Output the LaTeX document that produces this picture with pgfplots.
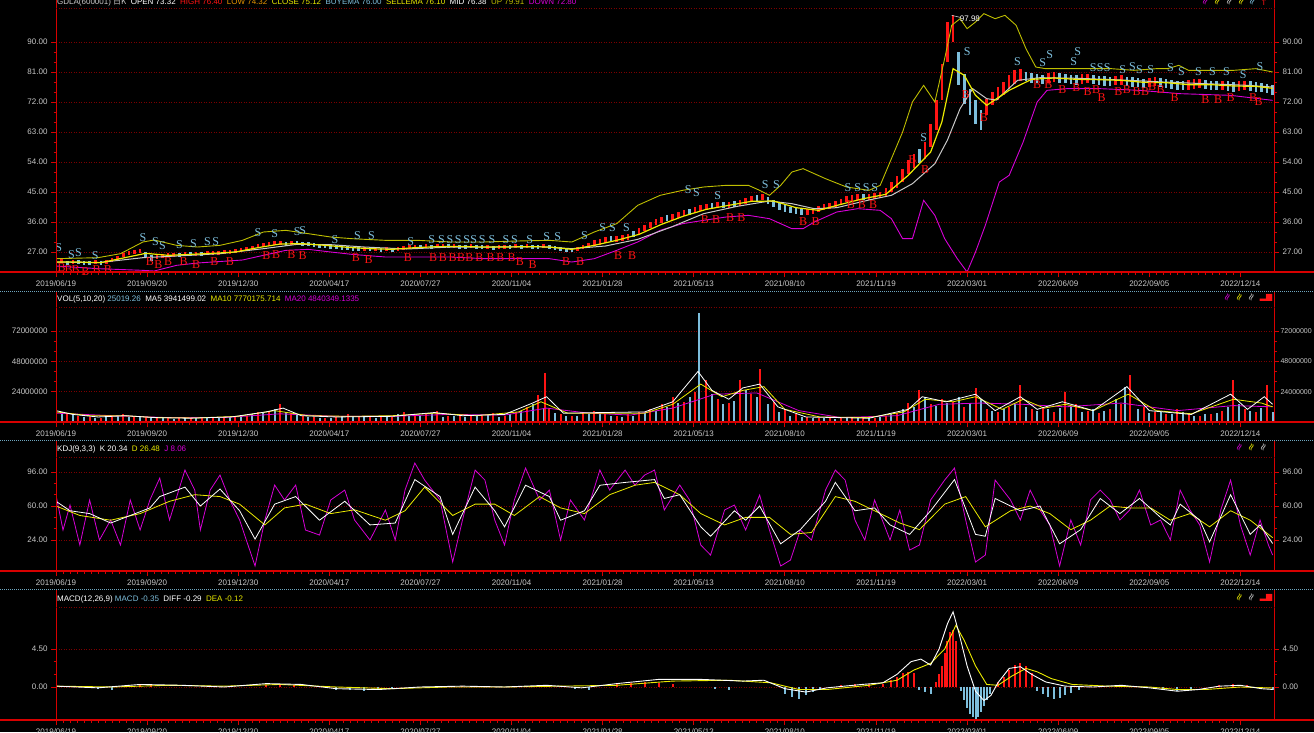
\documentclass[border=0pt]{standalone}
\usepackage{fontspec}
\setmainfont{Liberation Sans}
\newfontfamily\serifS{Liberation Serif}
\newfontfamily\cjk{Noto Sans CJK SC}
\newfontfamily\sym{DejaVu Sans}
\usepackage{pgfplots}
\usepackage{pgfplotstable}
\pgfplotsset{compat=1.18}

\definecolor{axred}{RGB}{215,0,0}
\definecolor{gridred}{RGB}{125,0,0}
\definecolor{lab}{RGB}{200,200,200}
\definecolor{lblue}{RGB}{125,190,220}
\definecolor{bandy}{RGB}{190,190,0}
\definecolor{yel}{RGB}{235,235,0}
\definecolor{mag}{RGB}{215,0,215}
\definecolor{org}{RGB}{230,150,0}
\definecolor{sepblue}{RGB}{110,165,190}
\definecolor{cred}{RGB}{255,20,20}

% ---------------- price candles (day index, centre, half range)
\pgfplotstableread{
x c e
0 24.0 0.6
4 24.2 0.6
12 24.1 0.6
28 23.9 0.6
36 24.1 0.6
40 24.5 0.6
44 25.2 0.6
48 26.0 0.6
52 26.6 0.6
56 27.0 0.6
60 27.3 0.6
72 25.6 0.6
76 25.9 0.6
80 26.0 0.6
84 26.2 0.6
92 26.4 0.6
100 26.5 0.6
108 26.6 0.6
112 26.7 0.6
116 26.8 0.6
120 26.9 0.6
124 27.0 0.6
128 27.2 0.6
132 27.5 0.6
136 27.9 0.6
140 28.3 0.6
144 28.7 0.6
148 29.0 0.6
152 29.4 0.6
156 29.6 0.6
160 29.8 0.6
168 29.7 0.6
220 28.0 0.6
228 27.9 0.6
236 27.8 0.6
244 28.0 0.6
248 28.2 0.6
252 28.4 0.6
256 28.6 0.6
264 28.8 0.6
272 28.7 0.6
276 28.9 0.6
284 28.8 0.6
296 28.7 0.6
308 28.5 0.6
316 28.5 0.6
320 28.6 0.6
328 28.7 0.6
336 28.8 0.6
348 28.7 0.6
372 28.0 0.6
376 28.6 0.6
380 29.1 0.6
384 29.6 0.9
388 30.1 0.9
392 30.5 0.9
400 31.0 0.9
404 31.3 0.9
408 31.6 0.9
416 33.2 0.9
420 34.2 0.9
424 35.1 0.9
428 35.9 0.9
432 36.6 0.9
440 37.6 0.9
444 38.1 0.9
448 38.6 0.9
456 39.6 0.9
460 40.1 0.9
464 40.6 0.9
472 41.1 0.9
480 41.2 0.9
488 41.7 0.9
492 42.2 0.9
496 42.8 0.9
504 43.4 0.9
536 39.1 0.9
540 39.4 0.9
544 39.9 0.9
548 40.4 0.9
552 40.9 0.9
556 41.4 0.9
560 42.1 0.9
564 42.9 0.9
568 43.3 0.9
572 43.5 0.9
580 43.6 0.9
584 43.8 0.9
588 44.1 0.9
592 45.0 1.2
596 46.5 1.5
600 48.0 1.8
604 50.0 2.0
608 52.5 2.2
612 54.3 2.2
620 57.5 2.5
624 62.0 3.5
628 68.0 4.5
632 78.0 5.5
636 90.0 6.0
640 94.0 4.0
664 70.5 2.5
668 73.0 2.0
672 74.5 2.0
676 76.0 2.0
680 78.0 2.0
684 79.5 2.0
688 80.0 1.8
708 79.2 1.4
712 79.5 1.4
732 78.9 1.4
736 79.1 1.4
756 78.4 1.4
760 78.6 1.4
780 77.9 1.4
784 78.1 1.4
808 77.1 1.4
812 77.4 1.4
816 77.5 1.4
832 77.0 1.4
844 76.8 1.4
848 77.0 1.4
}\redc
\pgfplotstableread{
x c e
8 23.8 0.6
16 24.0 0.6
20 23.7 0.6
24 23.6 0.6
32 23.8 0.6
64 26.2 0.8
68 25.2 0.8
88 26.0 0.6
96 26.3 0.6
104 26.4 0.6
164 29.5 0.6
172 29.6 0.6
176 29.4 0.6
180 29.3 0.6
184 29.1 0.6
188 28.9 0.6
192 28.8 0.6
196 28.6 0.6
200 28.5 0.6
204 28.3 0.6
208 28.2 0.6
212 28.0 0.6
216 27.9 0.6
224 27.8 0.6
232 27.7 0.6
240 27.7 0.6
260 28.5 0.6
268 28.6 0.6
280 28.7 0.6
288 28.6 0.6
292 28.5 0.6
300 28.6 0.6
304 28.4 0.6
312 28.3 0.6
324 28.4 0.6
332 28.6 0.6
340 28.6 0.6
344 28.5 0.6
352 28.4 0.6
356 28.1 0.6
360 27.9 0.6
364 27.7 0.6
368 27.6 0.6
396 30.8 0.9
412 32.3 0.9
436 37.1 0.9
452 39.1 0.9
468 40.9 0.9
476 41.0 0.9
484 41.4 0.9
500 43.3 0.9
508 42.4 1.0
512 41.5 1.0
516 40.7 1.0
520 40.1 1.0
524 39.6 1.0
528 39.3 1.0
532 39.0 1.0
576 43.4 0.9
616 55.8 2.2
644 82.0 5.0
648 76.0 4.5
652 72.0 4.0
656 69.0 3.5
660 66.5 3.0
692 79.6 1.4
696 79.2 1.4
700 79.0 1.4
704 78.8 1.4
716 79.2 1.4
720 79.0 1.4
724 78.8 1.4
728 78.6 1.4
740 78.8 1.4
744 78.5 1.4
748 78.3 1.4
752 78.1 1.4
764 78.2 1.4
768 78.0 1.4
772 77.8 1.4
776 77.6 1.4
788 77.8 1.4
792 77.5 1.4
796 77.3 1.4
800 77.0 1.4
804 76.9 1.4
820 77.2 1.4
824 77.0 1.4
828 76.9 1.4
836 76.8 1.4
840 76.5 1.4
852 76.8 1.4
856 76.5 1.4
860 76.3 1.4
864 76.0 1.4
868 75.6 1.4
}\bluec

% ---------------- bands
\pgfplotstableread{
x v
0 25.0
30 25.3
46 26.5
62 30.0
70 30.6
86 29.0
101 28.5
117 29.0
133 30.5
148 33.0
164 33.5
180 32.5
196 31.5
211 31.0
235 30.5
258 30.5
282 30.0
305 30.0
329 30.3
352 30.5
368 30.0
384 33.0
400 35.5
415 41.0
431 44.0
447 45.5
462 46.5
478 47.0
494 47.0
502 45.5
509 44.0
517 47.0
525 51.0
533 52.0
549 49.0
564 46.5
580 45.5
588 47.0
596 55.0
604 63.0
611 72.0
619 77.0
627 72.0
634 85.0
639 95.0
645 97.0
650 94.0
656 96.0
662 98.5
670 97.0
677 98.0
685 95.0
692 88.0
699 82.5
706 82.0
722 82.0
738 82.0
753 82.0
769 81.5
785 82.0
793 82.0
801 83.0
808 81.5
824 81.5
840 81.5
856 82.0
868 81.0
}\bandup
\pgfplotstableread{
x v
0 22.8
30 22.0
62 21.5
70 21.3
86 23.0
101 23.7
133 24.6
164 27.5
180 27.8
196 27.0
211 26.3
235 25.5
258 25.5
282 25.5
305 25.0
329 25.0
352 25.0
368 24.0
384 25.0
400 27.5
415 30.0
431 33.5
447 35.5
462 36.5
478 37.5
494 38.0
509 37.0
525 34.0
533 34.0
541 36.0
557 39.0
572 40.0
588 39.5
596 37.0
604 31.0
611 31.0
619 42.5
627 38.0
634 31.0
643 25.0
650 21.0
656 27.0
663 35.0
673 48.0
680 50.0
690 60.0
700 72.0
707 75.5
721 76.0
745 76.0
773 75.5
802 74.5
838 74.0
868 72.5
}\banddn
\pgfplotstableread{
x v
0 24.0
30 23.8
62 25.3
86 25.8
117 26.5
148 28.0
172 29.3
196 29.2
220 28.5
250 27.9
282 28.5
313 28.5
345 28.6
368 28.0
392 28.8
415 30.8
439 34.5
462 38.5
486 40.7
509 42.3
525 41.5
541 40.0
557 40.3
580 42.6
596 44.0
611 47.5
627 53.5
636 60.6
645 70.0
654 76.0
664 73.0
671 72.6
686 78.5
702 79.3
730 79.1
760 78.6
790 78.0
820 77.5
850 77.0
868 76.5
}\bandmid
\pgfplotstableread{
x v
0 24.0
16 24.0
32 23.8
48 25.2
64 26.6
80 26.0
96 26.3
112 26.6
128 27.0
144 28.3
160 29.4
176 29.5
192 29.0
208 28.4
224 28.0
240 27.8
256 28.3
272 28.6
288 28.7
304 28.5
320 28.5
336 28.6
352 28.5
368 27.8
384 29.0
400 30.5
416 32.3
432 35.3
448 37.8
464 39.8
480 41.0
496 42.2
512 42.3
528 40.3
544 39.5
560 41.3
576 43.0
592 44.3
608 50.0
624 57.0
632 66.0
640 82.0
648 80.0
656 74.0
664 71.0
680 75.5
696 78.8
712 79.2
728 78.8
744 78.7
760 78.5
776 77.9
792 77.8
808 77.2
824 77.2
840 76.8
856 76.7
868 76.1
}\emaline

% ---------------- S / B signals
\pgfplotstableread{
x v
2 28.2
11 26.1
16 26.7
28 25.8
62 31.2
71 30.0
76 28.8
88 29.1
98 29.4
108 30.0
114 30.0
144 32.7
156 32.4
172 33.0
176 33.3
199 30.6
215 31.8
225 31.8
253 30.0
268 30.6
275 30.6
281 30.6
287 30.6
293 30.6
298 30.6
304 30.6
311 30.6
321 30.6
327 30.6
338 30.6
350 31.5
358 31.5
377 31.8
390 34.2
397 34.2
407 34.2
451 45.6
457 44.7
472 43.8
506 47.1
514 47.1
565 46.2
572 46.2
578 46.2
584 46.2
619 61.2
650 87.0
686 84.0
704 83.7
709 86.1
726 84.0
729 87.0
740 82.2
745 82.2
750 82.2
761 81.6
768 82.5
773 81.6
781 81.6
795 82.2
803 81.0
815 81.0
825 81.0
835 81.0
847 80.1
859 82.5
}\sigS
\pgfplotstableread{
x v
4 22.2
9 21.6
14 21.6
21 21.2
29 21.6
37 21.6
67 24.0
73 23.1
80 24.0
91 24.0
100 23.1
113 24.0
124 24.0
150 25.8
157 26.1
168 26.1
176 25.8
214 25.2
223 24.6
251 25.2
269 25.2
276 25.2
283 25.2
289 25.2
295 25.2
302 25.2
310 25.2
317 25.2
325 25.2
331 24.0
340 23.1
364 24.0
374 24.0
401 25.8
411 25.8
463 36.6
471 36.6
481 37.2
489 37.2
533 36.0
542 36.0
567 41.1
575 41.1
583 41.1
611 54.6
620 51.6
649 74.1
662 67.2
700 77.1
708 77.1
718 75.6
728 76.2
736 75.0
742 75.6
746 73.2
758 75.0
764 75.6
771 75.0
777 75.0
782 76.5
788 75.6
798 73.2
820 72.6
829 72.6
838 73.2
854 73.2
858 72.0
}\sigB

% ---------------- volume (millions)
\pgfplotstableread{
x v
0 10
8 7
16 5
24 4
32 3.5
40 5
48 6
56 4.5
64 4
72 3.5
80 3
88 3.5
96 3
104 3.5
112 3
120 4
128 4.5
136 5
144 8
152 9
160 14
168 7
176 5
184 4
192 3.5
200 4
208 6
216 5
224 4
232 5
240 4
248 8
256 5
264 6
272 9
280 5
288 6
296 4.5
304 5
312 7
320 5
328 8
336 12
344 21
349 39
352 10
360 6
368 5
376 7
384 9
392 6
400 5
408 6
416 8
424 10
432 14
440 20
448 16
456 24
464 33
472 18
480 15
488 33
496 22
502 42
512 16
520 10
528 6
536 4
544 3
552 3.5
560 3
568 4
576 3
584 3.5
592 5
600 7
608 15
616 25
624 14
632 18
640 16
648 12
656 27
664 10
672 8
680 12
688 29
696 10
704 12
712 8
720 24
728 14
736 9
744 7
752 10
760 14
766 37
776 12
784 8
792 6
800 10
808 7
816 5
824 6
832 9
840 33
848 10
856 8
864 29
}\volR
\pgfplotstableread{
x v
4 8
12 6
20 4
28 3
36 4
44 5
52 4
60 5
68 3
76 3.5
84 2.5
92 3
100 3.5
108 3
116 3.5
124 4
132 5
140 6
148 7
156 10
164 8
172 6
180 4
188 3
196 3.5
204 5
212 4.5
220 4
228 3.5
236 4
244 6
252 5
260 5
268 7
276 4
284 5
292 4
300 5
308 6
316 4
324 6
332 9
340 14
348 11
356 7
364 5
372 5
380 6
388 7
396 5
404 4
412 5
420 7
428 9
436 12
444 15
452 20
459 86
468 22
476 14
484 17
492 25
500 20
508 14
516 8
524 5
532 4
540 3
548 3
556 2.5
564 3
572 3
580 3
588 4
596 6
604 10
612 12
620 20
628 13
636 15
644 20
652 14
660 18
668 9
676 10
684 14
692 12
700 9
708 10
716 11
724 12
732 8
740 10
748 9
756 18
763 28
772 10
780 7
788 8
796 6
804 8
812 5
820 6
828 7
836 12
844 14
852 9
860 11
868 8
}\volB
\pgfplotstableread{
x v
0 9
12 6
30 4
50 5
70 3.5
95 3
125 4
150 8
162 11
175 5
200 4
240 4.5
270 7.5
290 5
320 6
340 15
350 20
362 7
390 7.5
420 8
440 16
458 40
468 25
480 18
490 27
502 30
515 12
535 4
580 3
608 10
618 20
635 16
656 22
670 9
688 20
700 10
718 16
740 9
764 28
780 9
810 6
838 22
850 10
862 20
868 14
}\vmaA
\pgfplotstableread{
x v
0 8
24 5
48 5
72 3.5
100 3.2
130 4.5
156 9
180 5
210 4.5
240 5
270 7
300 5
330 8
346 16
365 7
390 7
420 7
440 14
460 30
475 20
490 25
505 28
520 10
545 4
580 3.5
605 8
620 18
640 16
656 20
675 10
690 18
705 11
720 14
740 9
765 22
785 9
810 6.5
840 18
860 15
868 12
}\vmaB
\pgfplotstableread{
x v
0 7
40 5
80 3.5
120 3.5
160 6.5
200 4.5
240 4.5
280 6
320 5.5
350 11
380 7
410 5.5
440 11
470 22
500 23
530 9
560 3.5
600 5
630 14
660 15
690 14
720 12
760 15
800 9
840 13
868 12
}\vmaC

% ---------------- KDJ
\pgfplotstableread{
x v
0 71.6
5 34.6
10 61.1
17 18.7
24 66.4
31 24.0
39 45.2
46 18.7
53 66.4
60 34.6
67 66.4
74 89.6
81 45.2
92 98.1
99 76.9
103 34.6
110 76.9
117 92.8
124 66.4
131 45.2
142 -3.5
149 45.2
156 82.2
163 66.4
171 82.2
178 34.6
188 29.3
196 66.4
206 76.9
213 45.2
224 24.0
235 55.8
242 24.0
249 76.9
256 105.5
263 87.5
274 66.4
283 0.7
290 45.2
299 98.1
306 87.5
313 45.2
320 18.7
327 66.4
335 100.2
345 66.4
352 76.9
360 24.0
367 66.4
377 45.2
388 98.1
395 76.9
406 98.1
413 82.2
420 92.8
427 98.1
434 55.8
445 82.2
452 66.4
460 18.7
467 8.1
477 55.8
484 61.1
492 34.6
502 71.6
509 34.6
517 -3.5
524 2.8
531 34.6
539 24.0
549 76.9
556 98.1
563 87.5
570 45.2
577 24.0
584 66.4
595 24.0
602 55.8
609 13.4
616 18.7
624 66.4
634 87.5
641 100.2
649 45.2
656 0.7
663 8.1
670 87.5
681 66.4
688 45.2
695 76.9
702 55.8
709 39.9
716 -3.5
724 45.2
731 18.7
738 66.4
745 76.9
752 66.4
759 45.2
766 55.8
773 76.9
781 39.9
788 45.2
795 24.0
802 76.9
809 55.8
816 39.9
823 0.7
831 55.8
838 87.5
845 39.9
852 8.1
859 45.2
865 18.7
868 8.1
}\kdjJ
\pgfplotstableread{
x v
0 65
10 55
24 52
39 42
53 50
67 58
74 70
92 80
103 60
117 78
131 55
142 25
156 62
171 70
188 45
206 65
224 40
242 42
256 88
274 70
283 30
299 80
313 55
320 38
335 82
352 70
360 45
377 55
388 82
406 85
427 88
434 68
445 72
460 38
467 28
484 55
492 45
502 60
517 20
531 35
549 65
556 85
570 55
584 58
595 40
609 30
624 55
641 88
656 30
663 28
670 68
688 55
702 60
716 20
731 35
745 68
759 52
773 68
788 48
795 40
802 62
816 45
823 22
838 72
852 30
859 40
868 20.3
}\kdjK
\pgfplotstableread{
x v
0 60
17 50
39 45
60 52
81 65
99 72
117 70
131 62
149 40
163 58
178 62
196 52
213 56
235 45
249 55
263 80
283 50
299 62
313 62
327 50
345 70
360 58
377 52
395 72
413 82
427 85
445 72
460 52
477 40
492 48
509 48
524 30
539 32
556 70
570 65
584 55
602 42
616 35
634 62
649 70
663 38
681 55
695 60
709 52
724 35
738 45
752 60
766 58
781 58
795 45
809 52
823 38
838 55
852 45
868 26.5
}\kdjD

% ---------------- MACD
\pgfplotstableread{
x v
0 0.1
30 -0.1
60 0.3
90 0.2
120 0.0
150 0.4
175 0.3
200 -0.2
230 -0.3
260 0.0
290 0.1
320 0.0
350 0.2
375 -0.1
400 0.4
430 0.9
460 0.9
490 0.7
505 0.8
520 -0.2
535 -0.6
550 -0.1
575 0.3
590 0.5
600 1.5
610 3.0
617 3.3
624 2.6
630 4.5
636 7.5
640 8.9
644 6.5
650 2.5
656 -0.5
662 -1.6
667 -1.0
672 0.5
680 2.2
688 2.4
696 1.5
706 0.6
720 0.1
740 0.0
760 0.2
780 -0.1
800 -0.5
815 -0.3
830 0.1
845 0.2
860 -0.2
868 -0.29
}\macddiff
\pgfplotstableread{
x v
0 0.1
40 0.0
80 0.2
120 0.1
160 0.3
200 0.0
240 -0.2
280 0.0
320 0.0
360 0.1
400 0.2
440 0.7
480 0.8
510 0.5
530 -0.3
550 -0.3
580 0.2
600 0.8
612 2.0
624 2.8
634 4.5
642 7.3
648 5.5
656 2.5
664 0.3
672 0.2
682 1.3
692 2.2
700 1.8
710 1.0
725 0.3
750 0.1
780 0.0
800 -0.3
820 -0.3
845 0.0
868 -0.12
}\macddea
\pgfplotstableread{
x v
60 0.2
68 0.3
150 0.2
160 0.3
170 0.2
290 0.1
300 0.15
350 0.2
400 0.3
410 0.5
420 0.6
430 0.5
440 0.4
560 0.2
570 0.3
580 0.3
590 0.4
596 0.8
600 1.2
604 1.6
608 1.8
612 1.6
628 0.6
630 1.5
632 2.5
634 4.0
636 5.5
638 6.5
640 6.8
642 5.5
672 0.6
676 1.2
680 2.0
684 2.6
688 2.8
692 2.5
696 1.6
830 0.2
840 0.3
850 0.2
}\histR
\pgfplotstableread{
x v
30 -0.2
40 -0.3
200 -0.3
210 -0.4
220 -0.5
230 -0.3
240 -0.2
370 -0.2
380 -0.3
470 -0.2
480 -0.3
520 -0.8
525 -1.2
530 -1.4
535 -1.0
540 -0.6
545 -0.4
616 -0.3
620 -0.6
624 -0.8
646 -0.5
648 -1.5
650 -2.5
652 -3.2
654 -3.6
656 -3.8
658 -3.5
660 -3.0
662 -2.2
664 -1.5
666 -0.8
700 -0.5
704 -0.8
708 -1.2
712 -1.4
716 -1.3
720 -1.0
724 -0.7
730 -0.4
790 -0.3
800 -0.5
810 -0.3
860 -0.2
868 -0.35
}\histB

\pgfplotsset{
  panel/.style={
    scale only axis, width=1218pt, xmin=0, xmax=869,
    axis line style={draw=none},
    tick align=outside,
    xtick={0,65,...,845},
    xticklabels={2019/06/19,2019/09/20,2019/12/30,2020/04/17,2020/07/27,2020/11/04,2021/01/28,2021/05/13,2021/08/10,2021/11/19,2022/03/01,2022/06/09,2022/09/05,2022/12/14},
    xtick pos=left, ytick pos=both,
    xticklabel pos=left, yticklabel pos=left,
    minor x tick num=12, minor y tick num=2,
    major tick length=5pt, minor tick length=2.5pt,
    tick style={draw=axred, line width=0.8pt},
    ymajorgrids,
    major grid style={draw=gridred, dash pattern=on 1pt off 1.5pt, line width=0.7pt},
    tick label style={font=\fontsize{8}{9}\selectfont, text=lab},
    yticklabel style={/pgf/number format/fixed, /pgf/number format/fixed zerofill, /pgf/number format/precision=2, /pgf/number format/assume math mode=true},
  },
  rpanel/.style={panel, xtick=\empty, minor x tick num=0, ymajorgrids=false,
    yticklabel pos=right, ytick pos=right, tick style={draw=none}},
}
\newcommand\ico[3]{\node[text=#1, font=\sym\fontsize{10}{10}\selectfont, rotate=65, inner sep=0] at (#2pt,#3pt) {≈};}
\newcommand\bico[2]{\node[text=cred, font=\sym\fontsize{8}{8}\selectfont, inner sep=0] at (#1pt,#2pt) {▂▆};}

\begin{document}
\begin{tikzpicture}
\fill[black] (0,0) rectangle (1314pt,-732pt);
\useasboundingbox (0,0) rectangle (1314pt,-732pt);

% ================= PANEL 1: price
\begin{axis}[panel, at={(56pt,-272pt)}, anchor=south west, height=264pt,
  ymin=21.0, ymax=100.2, ytick={27,36,...,90}]
\addplot[forget plot, draw=none, mark=none, error bars/.cd, y dir=both, y explicit, error mark=none,
  error bar style={draw=lblue, line width=2.6pt}] table[x=x, y=c, y error=e] {\bluec};
\addplot[forget plot, draw=none, mark=none, error bars/.cd, y dir=both, y explicit, error mark=none,
  error bar style={draw=cred, line width=2.6pt}] table[x=x, y=c, y error=e] {\redc};
\addplot[bandy, line width=0.9pt] table[x=x, y=v] {\bandup};
\addplot[mag, line width=0.9pt] table[x=x, y=v] {\banddn};
\addplot[lab, line width=1.0pt] table[x=x, y=v] {\bandmid};
\addplot[yel, line width=1.2pt] table[x=x, y=v] {\emaline};
\addplot[only marks, color=lblue, mark=text, text mark={S}, text mark as node=true,
  text mark style={font=\serifS\fontsize{12}{12}\selectfont, text=lblue, inner sep=0}] table[x=x, y=v] {\sigS};
\addplot[only marks, color=cred, mark=text, text mark={B}, text mark as node=true,
  text mark style={font=\serifS\fontsize{12}{12}\selectfont, text=cred, inner sep=0}] table[x=x, y=v] {\sigB};
\draw[lab, line width=0.6pt] (axis cs:639,98.0) -- (axis cs:645,97.4);
\node[anchor=west, text=white, font=\fontsize{8}{9}\selectfont, inner sep=1pt] at (axis cs:644,96.9) {97.98};
\end{axis}
\begin{axis}[rpanel, at={(56pt,-272pt)}, anchor=south west, height=264pt,
  ymin=21.0, ymax=100.2, ytick={27,36,...,90}]
\addplot[draw=none] coordinates {(0,50)};
\end{axis}

% ================= PANEL 2: volume
\begin{axis}[panel, at={(56pt,-422pt)}, anchor=south west, height=115pt,
  ymin=0, ymax=91, ytick={24,48,72}, yticklabels={24000000,48000000,72000000}]
\addplot[ycomb, lblue, line width=2pt, mark=none] table[x=x, y=v] {\volB};
\addplot[ycomb, cred, line width=2pt, mark=none] table[x=x, y=v] {\volR};
\addplot[mag, line width=0.8pt] table[x=x, y=v] {\vmaC};
\addplot[yel, line width=0.8pt] table[x=x, y=v] {\vmaB};
\addplot[white, line width=0.8pt] table[x=x, y=v] {\vmaA};
\end{axis}
\begin{axis}[rpanel, at={(56pt,-422pt)}, anchor=south west, height=115pt,
  ymin=0, ymax=91, ytick={24,48,72}, yticklabels={24000000,48000000,72000000},
  yticklabel style={xshift=-2pt, font=\fontsize{7}{8}\selectfont}]
\addplot[draw=none] coordinates {(0,10)};
\end{axis}

% ================= PANEL 3: KDJ
\begin{axis}[panel, at={(56pt,-571pt)}, anchor=south west, height=114pt,
  ymin=-8.8, ymax=111.9, ytick={24,60,96}]
\addplot[mag, line width=0.8pt] table[x=x, y=v] {\kdjJ};
\addplot[yel, line width=0.8pt] table[x=x, y=v] {\kdjD};
\addplot[white, line width=0.8pt] table[x=x, y=v] {\kdjK};
\end{axis}
\begin{axis}[rpanel, at={(56pt,-571pt)}, anchor=south west, height=114pt,
  ymin=-8.8, ymax=111.9, ytick={24,60,96}]
\addplot[draw=none] coordinates {(0,50)};
\end{axis}

% ================= PANEL 4: MACD
\begin{axis}[panel, at={(56pt,-720pt)}, anchor=south west, height=113pt,
  ymin=-3.91, ymax=9.47, ytick={0,4.5}]
\addplot[ycomb, cred, line width=2pt, mark=none] table[x=x, y=v] {\histR};
\addplot[ycomb, lblue, line width=2pt, mark=none] table[x=x, y=v] {\histB};
\addplot[yel, line width=0.9pt] table[x=x, y=v] {\macddea};
\addplot[white, line width=0.9pt] table[x=x, y=v] {\macddiff};
\end{axis}
\begin{axis}[rpanel, at={(56pt,-720pt)}, anchor=south west, height=113pt,
  ymin=-3.91, ymax=9.47, ytick={0,4.5}]
\addplot[draw=none] coordinates {(0,1)};
\end{axis}

% ================= frame decorations
\foreach \t/\b in {0/272,292/422,441/571,590/720}{
  \draw[axred, line width=0.9pt] (56pt,-\t pt) -- (56pt,-\b pt);
  \draw[axred, line width=0.9pt] (1274pt,-\t pt) -- (1274pt,-\b pt);
  \draw[axred, line width=1.6pt] (0pt,-\b pt) -- (1314pt,-\b pt);
}
\foreach \t in {8,307,457,607}{
  \draw[gridred, dash pattern=on 1pt off 1.5pt, line width=0.7pt] (56pt,-\t pt) -- (1274pt,-\t pt);
}
\foreach \s in {291,440,589}{
  \draw[sepblue, dash pattern=on 1pt off 1pt, line width=0.7pt] (0pt,-\s pt) -- (1314pt,-\s pt);
}

% ================= headers
\node[anchor=base west, inner sep=0, font=\fontsize{8}{9}\selectfont] at (57pt,-4pt)
 {\color{lab}GDLA(600001) {\cjk 日K}\ \ \color{white}OPEN 73.32\ \ \color{cred}HIGH 76.40\ \ \color{org}LOW 74.32\ \ \color{yel}CLOSE 75.12\ \ \color{lblue}BUYEMA 76.00\ \ \color{yel}SELLEMA 76.10\ \ \color{white}MID 76.38\ \ \color{bandy}UP 79.91\ \ \color{mag}DOWN 72.80};
\node[anchor=base west, inner sep=0, font=\fontsize{8}{9}\selectfont] at (57pt,-301pt)
 {\color{white}VOL(5,10,20)\ \color{lblue}25019.26\ \ \color{white}MA5 3941499.02\ \ \color{yel}MA10 7770175.714\ \ \color{mag}MA20 4840349.1335};
\node[anchor=base west, inner sep=0, font=\fontsize{8}{9}\selectfont] at (57pt,-451pt)
 {\color{white}KDJ(9,3,3)\ \ K 20.34\ \ \color{yel}D 26.48\ \ \color{mag}J 8.06};
\node[anchor=base west, inner sep=0, font=\fontsize{8}{9}\selectfont] at (57pt,-601pt)
 {\color{white}MACD(12,26,9)\ \color{lblue}MACD -0.35\ \ \color{white}DIFF -0.29\ \ \color{yel}DEA -0.12};

% ================= icons
\ico{mag}{1206}{-2}\ico{yel}{1218}{-2}\ico{lab}{1230}{-2}\ico{yel}{1242}{-2}\ico{lblue}{1253}{-2}
\node[text=cred, font=\sym\fontsize{9}{9}\selectfont, inner sep=0] at (1264pt,-2pt) {↑};
\ico{mag}{1228}{-298}\ico{yel}{1240}{-298}\ico{lab}{1252}{-298}\bico{1266}{-298}
\ico{mag}{1240}{-448}\ico{yel}{1252}{-448}\ico{lab}{1264}{-448}
\ico{yel}{1240}{-598}\ico{lab}{1252}{-598}\bico{1266}{-598}
\end{tikzpicture}
\end{document}
